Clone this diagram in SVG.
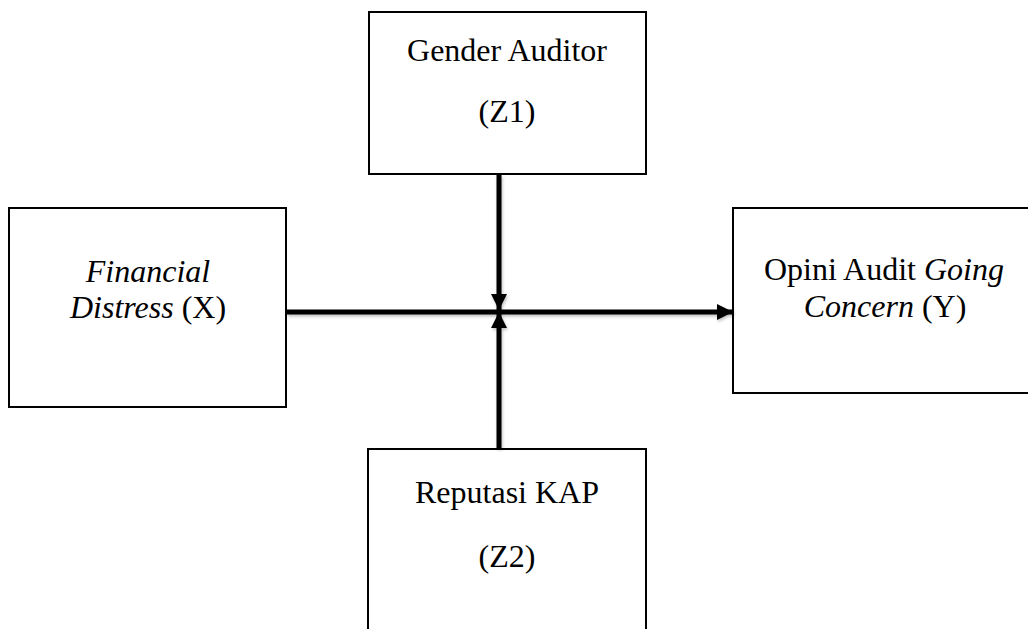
<svg xmlns="http://www.w3.org/2000/svg" width="1028" height="629" viewBox="0 0 1028 629">
  <style>
    .box { fill: #ffffff; stroke: #000000; stroke-width: 2; }
    .lbl { font-family: "Liberation Serif", "Times New Roman", serif; font-size: 32px; fill: #000000; text-anchor: middle; }
    .it { font-style: italic; }
    .conn { stroke: #000000; stroke-width: 5; fill: none; }
  </style>
  <defs>
    <filter id="sh" x="-20%" y="-20%" width="140%" height="140%">
      <feDropShadow dx="1" dy="2" stdDeviation="1.5" flood-color="#000000" flood-opacity="0.25"/>
    </filter>
    <marker id="ah" markerUnits="userSpaceOnUse" markerWidth="16" markerHeight="16" viewBox="0 0 16 16" refX="16" refY="8" orient="auto">
      <path d="M0,0 L16,8 L0,16 Z" fill="#000000"/>
    </marker>
  </defs>
  <rect width="1028" height="629" fill="#ffffff"/>

  <g id="node-z1">
    <rect class="box" x="369" y="12" width="277" height="162"/>
    <text class="lbl" x="507" y="61">Gender Auditor</text>
    <text class="lbl" x="507" y="122">(Z1)</text>
  </g>

  <g id="node-x">
    <rect class="box" x="9" y="208" width="277" height="199"/>
    <text class="lbl it" x="148" y="282">Financial</text>
    <text class="lbl" x="148" y="318"><tspan class="it">Distress</tspan> (X)</text>
  </g>

  <g id="node-y">
    <rect class="box" x="733" y="208" width="304" height="185"/>
    <text class="lbl" x="884" y="280">Opini Audit <tspan class="it">Going</tspan></text>
    <text class="lbl" x="885" y="317"><tspan class="it">Concern</tspan> (Y)</text>
  </g>

  <g id="node-z2">
    <rect class="box" x="368" y="449" width="278" height="190"/>
    <text class="lbl" x="507" y="503">Reputasi KAP</text>
    <text class="lbl" x="507" y="567">(Z2)</text>
  </g>

  <g id="connectors" filter="url(#sh)">
    <line class="conn" x1="287" y1="312" x2="733" y2="312" marker-end="url(#ah)"/>
    <line class="conn" x1="499" y1="175" x2="499" y2="310" marker-end="url(#ah)"/>
    <line class="conn" x1="499" y1="448" x2="499" y2="312" marker-end="url(#ah)"/>
  </g>
</svg>
